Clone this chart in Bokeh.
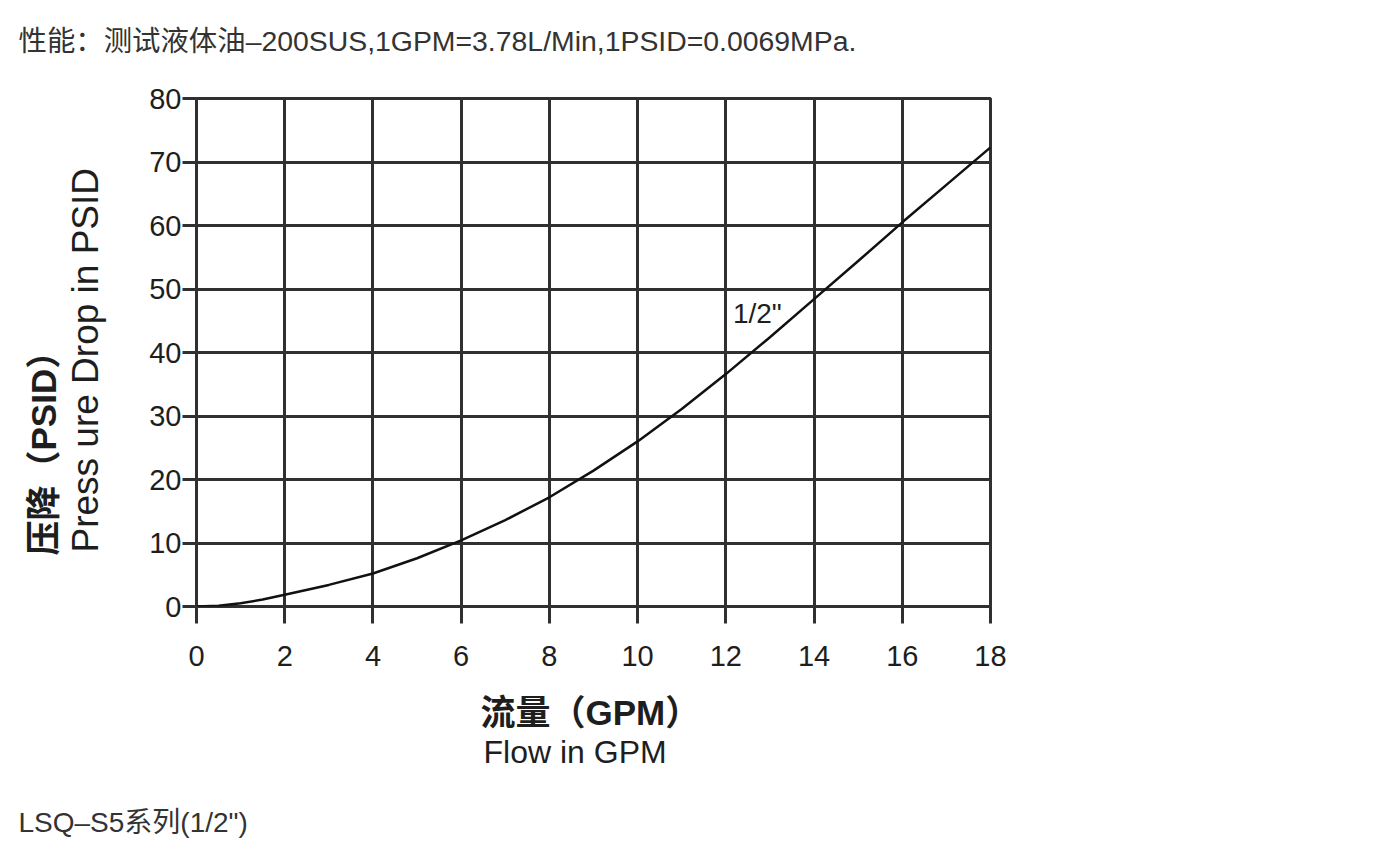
from bokeh.plotting import figure
from bokeh.models import Title, FixedTicker, Range1d, Label
from bokeh.embed import file_html
from bokeh.resources import INLINE

# ---- data ----
flow_gpm = [0, 0.5, 1, 1.5, 2, 3, 4, 5, 6, 7, 8, 9, 10, 11, 12, 13, 14, 15, 16, 17, 18]
pressure_psid = [0, 0.12, 0.5, 1.1, 1.84, 3.4, 5.2, 7.6, 10.4, 13.6, 17.2, 21.4, 26.0,
                 31.1, 36.6, 42.4, 48.4, 54.4, 60.5, 66.4, 72.3]
x_ticks = [0, 2, 4, 6, 8, 10, 12, 14, 16, 18]
y_ticks = [0, 10, 20, 30, 40, 50, 60, 70, 80]
curve_label = '1/2"'
title_text = "性能：测试液体油–200SUS,1GPM=3.78L/Min,1PSID=0.0069MPa."
footer_text = 'LSQ–S5系列(1/2")'
x_label_cn = "流量（GPM）"
x_label_en = "Flow in GPM"
y_label_cn = "压降（PSID）"
y_label_en = "Press ure Drop in PSID"

GRID = "#303030"
TXT = "#1e1e1e"
MIX = "Liberation Sans, Noto Sans CJK SC"

p = figure(width=1380, height=844,
           x_range=Range1d(0, 18), y_range=Range1d(0, 80),
           output_backend="svg", toolbar_location=None, title=None,
           min_border_left=196, min_border_right=390,
           min_border_top=98, min_border_bottom=238)

p.background_fill_color = "white"
p.border_fill_color = "white"
p.outline_line_color = GRID
p.outline_line_width = 3

p.xaxis.ticker = FixedTicker(ticks=x_ticks)
p.yaxis.ticker = FixedTicker(ticks=y_ticks)
p.xgrid.ticker = FixedTicker(ticks=x_ticks)
p.ygrid.ticker = FixedTicker(ticks=y_ticks)
for g in (p.xgrid, p.ygrid):
    g.grid_line_color = GRID
    g.grid_line_width = 3
    g.grid_line_alpha = 1.0

for ax in (p.xaxis, p.yaxis):
    ax.axis_line_color = None
    ax.major_tick_line_color = GRID
    ax.major_tick_line_width = 3
    ax.major_tick_in = 0
    ax.minor_tick_line_color = None
    ax.major_label_text_font = "Liberation Sans"
    ax.major_label_text_font_size = "29px"
    ax.major_label_text_color = TXT
p.xaxis.major_tick_out = 17
p.yaxis.major_tick_out = 14
p.xaxis.major_label_standoff = 22
p.yaxis.major_label_standoff = 1

p.line(flow_gpm, pressure_psid, line_color="#111111", line_width=2.5)

p.add_layout(Label(x=12.16, y=46.1, text=curve_label, text_font="Liberation Sans",
                   text_font_size="28px", text_baseline="middle", text_color=TXT))


def spacer(place, gap):
    p.add_layout(Title(text=" ", text_font_size="1px", standoff=gap), place)


def title(text, place, font, size, offset, style="normal", color=TXT):
    p.add_layout(Title(text=text, text_font=font, text_font_size=size,
                       text_font_style=style, text_color=color, align="left",
                       offset=offset, standoff=0), place)


# top note
spacer("above", 38.5)
title(title_text, "above", MIX, "28.4px", -178, color="#333333")

# x-axis labels and footer (stacked outward from the axis)
spacer("below", 19)
title(x_label_cn, "below", MIX, "35px", 284, style="bold")
title(x_label_en, "below", "Liberation Sans", "32px", 287)
spacer("below", 31.5)
title(footer_text, "below", MIX, "28px", -178, color="#333333")

# y-axis labels (stacked outward from the axis)
spacer("left", 37.5)
title(y_label_en, "left", "Liberation Sans", "37px", 54)
title(y_label_cn, "left", MIX, "35px", 51, style="bold")

open("out.html", "w").write(file_html(p, INLINE))
